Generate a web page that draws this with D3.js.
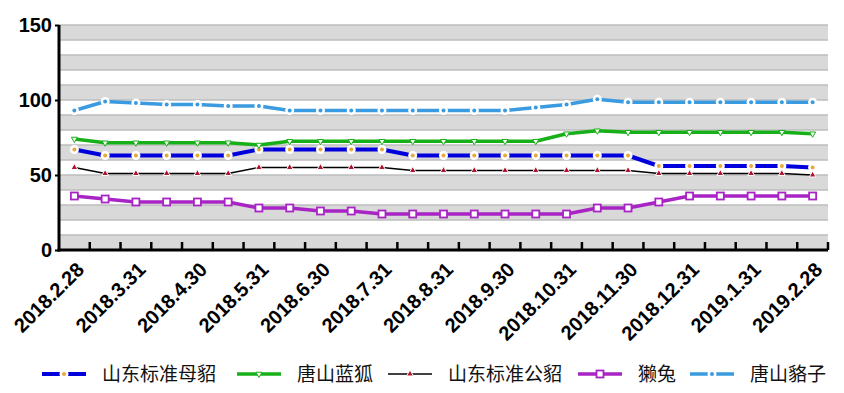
<!DOCTYPE html>
<html>
<head>
<meta charset="utf-8">
<title>price chart</title>
<script src="https://cdn.jsdelivr.net/npm/d3@7"></script>
<style>
  body { margin: 0; background: #fff; }
</style>
</head>
<body>
<script>
// categories: half-month points, only month ends get a label
var categories = ["2018.2.28","2018.3.15","2018.3.31","2018.4.15","2018.4.30","2018.5.15","2018.5.31",
  "2018.6.15","2018.6.30","2018.7.15","2018.7.31","2018.8.15","2018.8.31","2018.9.15","2018.9.30",
  "2018.10.15","2018.10.31","2018.11.15","2018.11.30","2018.12.15","2018.12.31","2019.1.15","2019.1.31",
  "2019.2.15","2019.2.28"];
var tickLabels = ["2018.2.28","2018.3.31","2018.4.30","2018.5.31","2018.6.30","2018.7.31","2018.8.31",
  "2018.9.30","2018.10.31","2018.11.30","2018.12.31","2019.1.31","2019.2.28"];
var yTicks = [0, 50, 100, 150];

var sdMuDiao   = [67,63,63,63,63,63,67,67,67,67,67,63,63,63,63,63,63,63,63,56,56,56,56,56,55];
var tsLanHu    = [74,71.5,71.5,71.5,71.5,71.5,70,72.5,72.5,72.5,72.5,72.5,72.5,72.5,72.5,72.5,77.5,79.5,78.5,78.5,78.5,78.5,78.5,78.5,77.5];
var sdGongDiao = [55,51,51,51,51,51,55,55,55,55,55,53,53,53,53,53,53,53,53,51,51,51,51,51,50];
var taTu       = [36,34,32,32,32,32,28,28,26,26,24,24,24,24,24,24,24,28,28,32,36,36,36,36,36];
var tsHeZi     = [93,99,98,97,97,96,96,93,93,93,93,93,93,93,93,95,97,100.5,98.5,98.5,98.5,98.5,98.5,98.5,98.5];

var seriesNames = ["山东标准母貂","唐山蓝狐","山东标准公貂","獭兔","唐山貉子"];
var seriesData = [sdMuDiao, tsLanHu, sdGongDiao, taTu, tsHeZi];

var w = 844, h = 393;
var m = {left: 59, right: 16, top: 25, bottom: 143};
var pw = w - m.left - m.right, ph = h - m.top - m.bottom;

var svg = d3.select("body").append("svg").attr("width", w).attr("height", h);
var g = svg.append("g").attr("transform", "translate(" + m.left + "," + m.top + ")");

var x = d3.scaleBand().domain(categories).range([0, pw]);
var y = d3.scaleLinear().domain([0, 150]).range([ph, 0]);

// striped background: gray every other 10-unit band
var bands = d3.range(0, 150, 10);
g.selectAll("rect.band").data(bands.filter(function(d) { return (d / 10) % 2 == 0; }))
  .enter().append("rect")
  .attr("x", 0).attr("width", pw)
  .attr("y", function(d) { return y(d + 10); })
  .attr("height", function(d) { return y(d) - y(d + 10); })
  .attr("fill", "#d9d9d9");
g.selectAll("line.grid").data(d3.range(10, 151, 10)).enter().append("line")
  .attr("x1", 0).attr("x2", pw)
  .attr("y1", function(d) { return y(d); }).attr("y2", function(d) { return y(d); })
  .attr("stroke", "#bdbdbd").attr("stroke-width", 1.5);

// style per series
var styles = [
  {color: "#0000dd", width: 4,   marker: "circle",   mfill: "#fff", mstroke: "#fff", inner: "#e8a93a"},
  {color: "#18b018", width: 3.5, marker: "tridown",  mfill: "#fff", mstroke: "#18b018", inner: null},
  {color: "#000",    width: 1.5, marker: "triup",    mfill: "#b0102a", mstroke: "#fff", inner: null},
  {color: "#a824c4", width: 3.5, marker: "square",   mfill: "#fff", mstroke: "#a824c4", inner: null},
  {color: "#3a9be0", width: 3.5, marker: "circle",   mfill: "#fff", mstroke: "#fff", inner: "#3a9be0"}
];

function cx(i) { return x(categories[i]) + x.bandwidth() / 2; }

function drawMarker(sel, st) {
  if (st.marker == "circle") {
    sel.append("circle").attr("r", 4.5).attr("fill", st.mfill);
    sel.append("circle").attr("r", 2).attr("fill", st.inner);
  } else if (st.marker == "square") {
    sel.append("rect").attr("x", -3.5).attr("y", -3.5).attr("width", 7).attr("height", 7)
      .attr("fill", st.mfill).attr("stroke", st.mstroke).attr("stroke-width", 1.8);
  } else if (st.marker == "tridown") {
    sel.append("path").attr("d", d3.symbol().type(d3.symbolTriangle).size(16))
      .attr("transform", "rotate(180)")
      .attr("fill", st.mfill).attr("stroke", st.mstroke).attr("stroke-width", 1);
  } else {
    sel.append("path").attr("d", d3.symbol().type(d3.symbolTriangle).size(20))
      .attr("fill", st.mfill).attr("stroke", st.mstroke).attr("stroke-width", 1);
  }
}

var line = d3.line().x(function(d, i) { return cx(i); }).y(function(d) { return y(d); });

seriesData.forEach(function(data, k) {
  var st = styles[k];
  g.append("path").datum(data).attr("d", line)
    .attr("fill", "none").attr("stroke", st.color).attr("stroke-width", st.width)
    .attr("stroke-linejoin", "round");
  g.selectAll("g.m" + k).data(data).enter().append("g")
    .attr("transform", function(d, i) { return "translate(" + cx(i) + "," + y(d) + ")"; })
    .each(function() { drawMarker(d3.select(this), st); });
});

// y axis
var yAxis = d3.axisLeft(y).tickValues(yTicks).tickSize(4).tickPadding(3);
var ya = g.append("g").call(yAxis);
ya.select(".domain").attr("stroke", "#000").attr("stroke-width", 3).attr("d", "M0," + (ph + 1.5) + "V0");
ya.selectAll(".tick line").attr("stroke", "#000").attr("stroke-width", 2);
ya.selectAll(".tick text").attr("font-family", "Liberation Sans, Arial, sans-serif")
  .attr("font-weight", "bold").attr("font-size", "20px").attr("fill", "#000");

// x axis with ticks at band edges
var xa = g.append("g").attr("transform", "translate(0," + ph + ")");
xa.append("line").attr("x1", -1.5).attr("x2", pw).attr("stroke", "#000").attr("stroke-width", 3);
var edges = categories.map(function(c) { return x(c); }).concat([pw]);
xa.selectAll("line.tk").data(edges.slice(1)).enter().append("line")
  .attr("x1", function(d) { return d; }).attr("x2", function(d) { return d; })
  .attr("y1", 0).attr("y2", -8).attr("stroke", "#000").attr("stroke-width", 2.5);
xa.selectAll("text").data(tickLabels).enter().append("text")
  .attr("transform", function(d) {
    return "translate(" + (x(d) + x.bandwidth() / 2 + 1) + ",11) rotate(-45)";
  })
  .attr("text-anchor", "end").attr("dy", "0.7em")
  .attr("font-family", "Liberation Sans, Arial, sans-serif")
  .attr("font-weight", "bold").attr("font-size", "20px").attr("fill", "#000")
  .text(function(d) { return d; });

// legend
var legendX = [42, 237, 388, 578, 690];
var lg = svg.append("g").attr("transform", "translate(0,374)");
seriesNames.forEach(function(name, k) {
  var st = styles[k];
  var item = lg.append("g").attr("transform", "translate(" + legendX[k] + ",0)");
  item.append("line").attr("x1", 0).attr("x2", 44)
    .attr("stroke", st.color).attr("stroke-width", st.width);
  drawMarker(item.append("g").attr("transform", "translate(22,0)"), st);
  item.append("text").attr("x", 60).attr("dy", "0.35em")
    .attr("font-family", "Noto Sans CJK SC, sans-serif").attr("font-size", "19px")
    .attr("fill", "#111").text(name);
});
</script>
</body>
</html>
